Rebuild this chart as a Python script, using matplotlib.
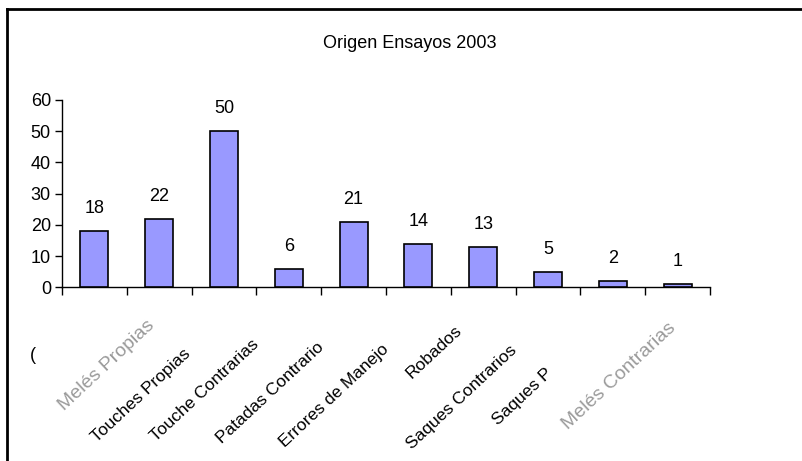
import matplotlib
matplotlib.use("Agg")
import matplotlib.pyplot as plt
import matplotlib.transforms as mtransforms
from matplotlib.lines import Line2D

categories = ["Melés Propias", "Touches Propias", "Touche Contrarias", "Patadas Contrario",
              "Errores de Manejo", "Robados", "Saques Contrarios", "Saques P", "", "Melés Contrarias"]
values = [18, 22, 50, 6, 21, 14, 13, 5, 2, 1]
yticks = [0, 10, 20, 30, 40, 50, 60]

# label styling (colour, size, pixel offset of label end from category centre/baseline)
label_colors = ["#9a9a9a", "black", "black", "black", "black", "black", "black", "black", "black", "#9a9a9a"]
label_sizes = [14, 12.5, 12.5, 12.5, 12.5, 12.5, 12.5, 12.5, 12.5, 14]
label_dx = [58, 29, 33, 33, 33, 41, 31, 2, 0, -4]
label_dy = [36, 64, 55, 58, 60, 41, 61, 84, 0, 38]

plt.rcParams['font.family'] = ['Liberation Sans', 'DejaVu Sans']

W, H = 802, 461
fig = plt.figure(figsize=(W / 100, H / 100), dpi=100)
ax = fig.add_axes([62 / W, 1 - 287.3 / H, (710 - 62) / W, (287.3 - 100) / H])

x = list(range(len(values)))
ax.bar(x, values, width=0.43, color="#9999FF", edgecolor="black", linewidth=1.2, zorder=3)
for xi, v in zip(x, values):
    ax.annotate(str(v), (xi, v), xytext=(0, 10), textcoords="offset points",
                ha="center", va="bottom", fontsize=13)

ax.set_xlim(-0.5, len(values) - 0.5)
ax.set_ylim(0, 60)
ax.set_yticks(yticks)
ax.set_yticklabels([str(t) for t in yticks], fontsize=13)
ax.set_xticks([i - 0.5 for i in range(len(values) + 1)])
ax.set_xticklabels([])
ax.tick_params(axis="x", direction="out", length=6, width=1)
ax.tick_params(axis="y", direction="out", length=5, width=1, pad=3)
for s in ["top", "right"]:
    ax.spines[s].set_visible(False)
for s in ["left", "bottom"]:
    ax.spines[s].set_linewidth(1)

# rotated category labels
for xi, lab, col, fs, dx, dy in zip(x, categories, label_colors, label_sizes, label_dx, label_dy):
    if not lab:
        continue
    off = mtransforms.ScaledTranslation(dx / 100, -dy / 100, fig.dpi_scale_trans)
    ax.text(xi, 0, lab, rotation=43, rotation_mode="anchor", ha="right", va="center",
            fontsize=fs, color=col, transform=ax.get_xaxis_transform() + off)

fig.text(33 / W, 1 - 355 / H, "(", fontsize=13, ha="center", va="center")

fig.text(410 / W, 1 - 43 / H, "Origen Ensayos 2003", fontsize=13, ha="center", va="center")

# outer frame (top and left edges visible)
fig.add_artist(Line2D([7 / W, 1.0], [1 - 9.5 / H, 1 - 9.5 / H], transform=fig.transFigure, color="black", lw=2))
fig.add_artist(Line2D([7 / W, 7 / W], [0, 1 - 9.5 / H], transform=fig.transFigure, color="black", lw=2))

fig.savefig("out.png", dpi=100)
